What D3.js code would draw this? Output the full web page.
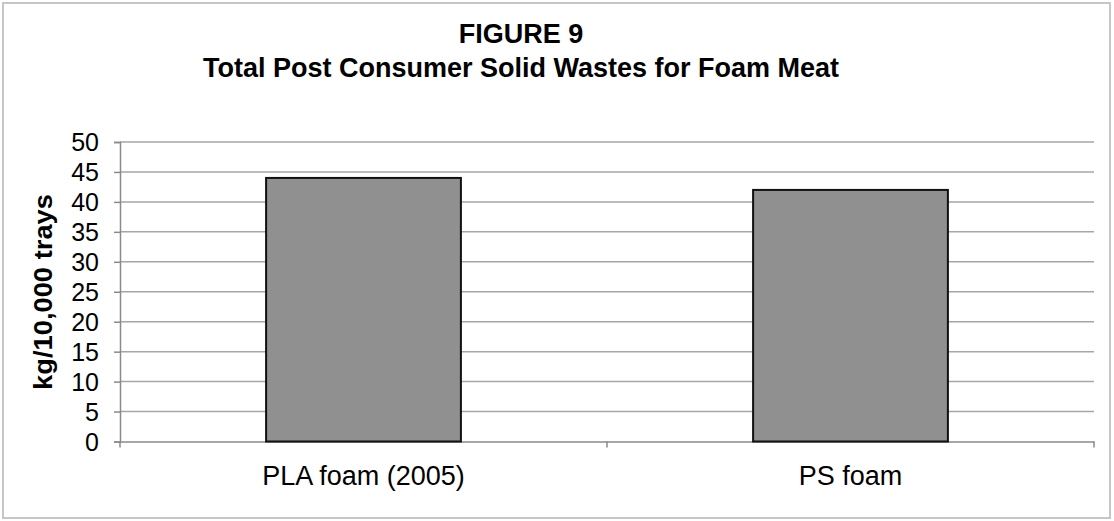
<!DOCTYPE html>
<html>
<head>
<meta charset="utf-8">
<script src="https://cdn.jsdelivr.net/npm/d3@7/dist/d3.min.js"></script>
<style>
  html, body { margin: 0; padding: 0; background: #fff; }
  svg { display: block; }
  text { font-family: "Liberation Sans", Arial, sans-serif; fill: #000; }
</style>
</head>
<body>
<svg id="chart" width="1114" height="521"></svg>
<script>
const categories = ["PLA foam (2005)", "PS foam"];
const values = [44, 42];
const yTicks = [0, 5, 10, 15, 20, 25, 30, 35, 40, 45, 50];
const titleLines = ["FIGURE 9", "Total Post Consumer Solid Wastes for Foam Meat"];
const yTitle = "kg/10,000 trays";

const svg = d3.select("#chart");
const W = 1114, H = 521;
const m = { left: 120, right: 1094, top: 142, bottom: 441.5 };

svg.append("rect")
  .attr("x", 3).attr("y", 3).attr("width", W - 7).attr("height", H - 6)
  .attr("fill", "#fff").attr("stroke", "#c6c6c6").attr("stroke-width", 2);

const x = d3.scaleBand().domain(categories).range([m.left, m.right])
  .paddingInner(0.6).paddingOuter(0.3);
const y = d3.scaleLinear().domain([0, 50]).range([m.bottom, m.top]);

// gridlines
svg.append("g").selectAll("line").data(yTicks.filter(d => d > 0)).join("line")
  .attr("x1", m.left).attr("x2", m.right)
  .attr("y1", d => y(d)).attr("y2", d => y(d))
  .attr("stroke", "#a6a6a6").attr("stroke-width", 1.5);

// y axis
const yAxis = svg.append("g").attr("transform", `translate(${m.left},0)`)
  .call(d3.axisLeft(y).tickValues(yTicks).tickSize(6).tickPadding(15).tickFormat(d3.format("d")));
yAxis.select(".domain").attr("stroke", "#8a8a8a").attr("stroke-width", 1.5);
yAxis.selectAll(".tick line").attr("stroke", "#8a8a8a").attr("stroke-width", 1.5);
yAxis.selectAll(".tick text")
  .style("font-family", '"Liberation Sans", Arial, sans-serif')
  .style("font-size", "25px").attr("fill", "#111").attr("dy", "0.35em");

// x axis
const xAxis = svg.append("g").attr("transform", `translate(0,${m.bottom})`)
  .call(d3.axisBottom(x).tickSize(0).tickPadding(0).tickFormat(() => ""));
xAxis.select(".domain").attr("stroke", "#8a8a8a").attr("stroke-width", 1.5);
xAxis.selectAll(".tick").remove();
// category boundary ticks
const step = x.step();
const boundaries = d3.range(categories.length + 1).map(i => m.left + i * step);
svg.append("g").selectAll("line").data(boundaries).join("line")
  .attr("x1", d => d).attr("x2", d => d)
  .attr("y1", m.bottom).attr("y2", m.bottom + 6)
  .attr("stroke", "#8a8a8a").attr("stroke-width", 1.5);

// category labels
svg.append("g").selectAll("text").data(categories).join("text")
  .attr("x", d => x(d) + x.bandwidth() / 2)
  .attr("y", 485)
  .attr("text-anchor", "middle")
  .attr("fill", "#111")
  .style("font-size", "27px")
  .text(d => d);

// bars
svg.append("g").selectAll("rect").data(values).join("rect")
  .attr("x", (d, i) => x(categories[i]))
  .attr("y", d => y(d))
  .attr("width", x.bandwidth())
  .attr("height", d => y(0) - y(d))
  .attr("fill", "#909090").attr("stroke", "#111").attr("stroke-width", 2);

// titles
svg.append("text").attr("x", 521).attr("y", 43).attr("text-anchor", "middle")
  .style("font-size", "27px").style("font-weight", "bold").text(titleLines[0]);
svg.append("text").attr("x", 521).attr("y", 77).attr("text-anchor", "middle")
  .style("font-size", "27px").style("font-weight", "bold").text(titleLines[1]);

// y title
svg.append("text")
  .attr("transform", "translate(52,292) rotate(-90)")
  .attr("text-anchor", "middle")
  .attr("textLength", 196).attr("lengthAdjust", "spacingAndGlyphs")
  .style("font-size", "25px").style("font-weight", "bold").text(yTitle);
</script>
</body>
</html>
